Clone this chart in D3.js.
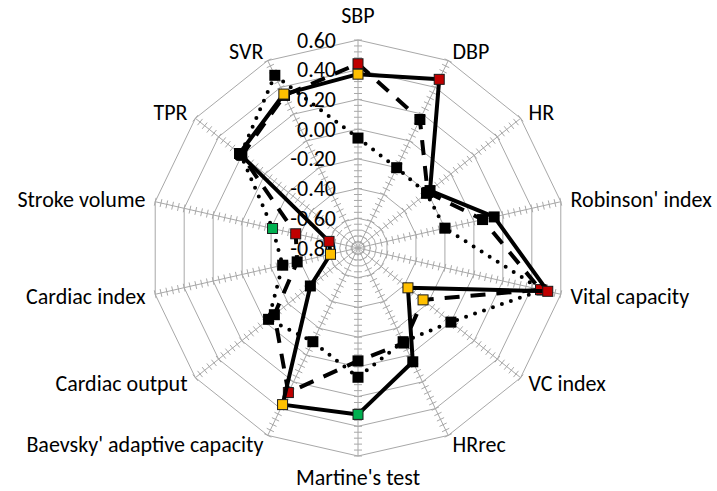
<!DOCTYPE html>
<html>
<head>
<meta charset="utf-8">
<script src="https://cdn.jsdelivr.net/npm/d3@7/dist/d3.min.js"></script>
<style>
  html, body { margin: 0; padding: 0; background: #fff; }
  svg { display: block; }
  text { font-family: Carlito, Calibri, Lato, "Open Sans", sans-serif; fill: #000; }
</style>
</head>
<body>
<svg id="chart" width="717" height="491"></svg>
<script>
// Indicators around the radar
const categories = ["SBP", "DBP", "HR", "Robinson' index", "Vital capacity", "VC index",
  "HRrec", "Martine's test", "Baevsky' adaptive capacity", "Cardiac output",
  "Cardiac index", "Stroke volume", "TPR", "SVR"];

// Value axis ticks
const tickValues = [-0.8, -0.6, -0.4, -0.2, 0.0, 0.2, 0.4, 0.6];

// Correlation coefficients of the three groups
const solidValues  = [0.37, 0.46, -0.18, 0.14, 0.51, -0.37, 0.05, 0.32, 0.37, -0.39, -0.61, -0.60, 0.22, 0.35];
const dashedValues = [0.44, 0.16, -0.20, 0.06, 0.46, -0.24, -0.09, -0.04, 0.28, -0.08, -0.38, -0.37, 0.20, 0.34];
const dottedValues = [-0.06, -0.20, -0.21, -0.20, 0.47, 0.00, -0.10, 0.07, -0.10, -0.03, -0.28, -0.21, 0.21, 0.49];

// Significance level of each point (0 = none, 1 = red, 2 = yellow, 3 = green)
const solidSignif  = [2, 1, 0, 0, 1, 2, 0, 3, 2, 0, 2, 1, 0, 2];
const dashedSignif = [1, 0, 0, 0, 1, 2, 0, 0, 1, 0, 0, 1, 0, 0];
const dottedSignif = [0, 0, 0, 0, 1, 0, 0, 0, 0, 0, 0, 3, 0, 0];

const svg = d3.select("#chart");
const cx = 358, cy = 248, R = 208;
const n = categories.length;
const rScale = d3.scaleLinear().domain([-0.8, 0.6]).range([0, R]);
const angle = i => i * 2 * Math.PI / n;
const pt = (i, v) => {
  const a = angle(i), r = rScale(v);
  return [cx + Math.sin(a) * r, cy - Math.cos(a) * r];
};
const gridColor = "#a8a8a8";
const signifColor = ["#000000", "#c00000", "#ffc000", "#00b050"];

const grid = svg.append("g");

// Rings
const ringValues = tickValues.filter(v => v > -0.8);
grid.selectAll("polygon.ring").data(ringValues).join("polygon")
  .attr("class", "ring")
  .attr("points", v => d3.range(n).map(i => pt(i, v).join(",")).join(" "))
  .attr("fill", "none").attr("stroke", gridColor).attr("stroke-width", 1);

// Spokes
grid.selectAll("line.spoke").data(d3.range(n)).join("line")
  .attr("class", "spoke")
  .attr("x1", cx).attr("y1", cy)
  .attr("x2", i => pt(i, 0.6)[0]).attr("y2", i => pt(i, 0.6)[1])
  .attr("stroke", gridColor).attr("stroke-width", 1);

// Cross tick marks along every spoke (minor unit 0.04)
const minorTicks = d3.range(1, 36).map(k => -0.8 + k * 0.04);
const tickData = [];
d3.range(n).forEach(i => minorTicks.forEach(v => tickData.push({ i, v })));
grid.selectAll("line.tick").data(tickData).join("line")
  .attr("class", "tick")
  .each(function (d) {
    const a = angle(d.i), [x, y] = pt(d.i, d.v);
    const px = Math.cos(a) * 4, py = Math.sin(a) * 4;
    d3.select(this).attr("x1", x - px).attr("y1", y - py).attr("x2", x + px).attr("y2", y + py);
  })
  .attr("stroke", gridColor).attr("stroke-width", 1);

// Value labels along the first axis
svg.append("g").selectAll("text").data(tickValues).join("text")
  .attr("x", cx - 22)
  .attr("y", v => cy - rScale(v))
  .attr("text-anchor", "end")
  .attr("dominant-baseline", "central")
  .style("font-size", "22px")
  .text(v => v.toFixed(2));

// Category labels
svg.append("g").selectAll("text").data(categories).join("text")
  .each(function (c, i) {
    const a = angle(i), s = Math.sin(a), co = Math.cos(a);
    const [vx, vy] = pt(i, 0.6);
    let x = vx + s * 10, y = vy - co * 10, anchor;
    if (Math.abs(s) < 0.1) { anchor = "middle"; y += co > 0 ? -15 : 11; }
    else anchor = s > 0 ? "start" : "end";
    d3.select(this).attr("x", x).attr("y", y).attr("text-anchor", anchor);
  })
  .attr("dominant-baseline", "central")
  .style("font-size", "22px")
  .text(c => c);

// Series
const series = [
  { values: dottedValues, signif: dottedSignif, dash: "0,9.5", cap: "round" },
  { values: dashedValues, signif: dashedSignif, dash: "15,11", cap: "butt" },
  { values: solidValues,  signif: solidSignif,  dash: null,    cap: "round" }
];
const line = d3.line().curve(d3.curveLinearClosed);

series.forEach(s => {
  const g = svg.append("g");
  g.append("path")
    .attr("d", line(s.values.map((v, i) => pt(i, v))))
    .attr("fill", "none")
    .attr("stroke", "#000")
    .attr("stroke-width", 4)
    .attr("stroke-linejoin", "round")
    .attr("stroke-linecap", s.cap)
    .attr("stroke-dasharray", s.dash);
  g.selectAll("rect").data(s.values).join("rect")
    .each(function (v, i) {
      const [x, y] = pt(i, v);
      const size = s.signif[i] ? 10 : 11;
      d3.select(this)
        .attr("x", x - size / 2).attr("y", y - size / 2)
        .attr("width", size).attr("height", size)
        .attr("fill", signifColor[s.signif[i]])
        .attr("stroke", s.signif[i] ? "#1a1a1a" : "none")
        .attr("stroke-width", 1);
    });
});
</script>
</body>
</html>
